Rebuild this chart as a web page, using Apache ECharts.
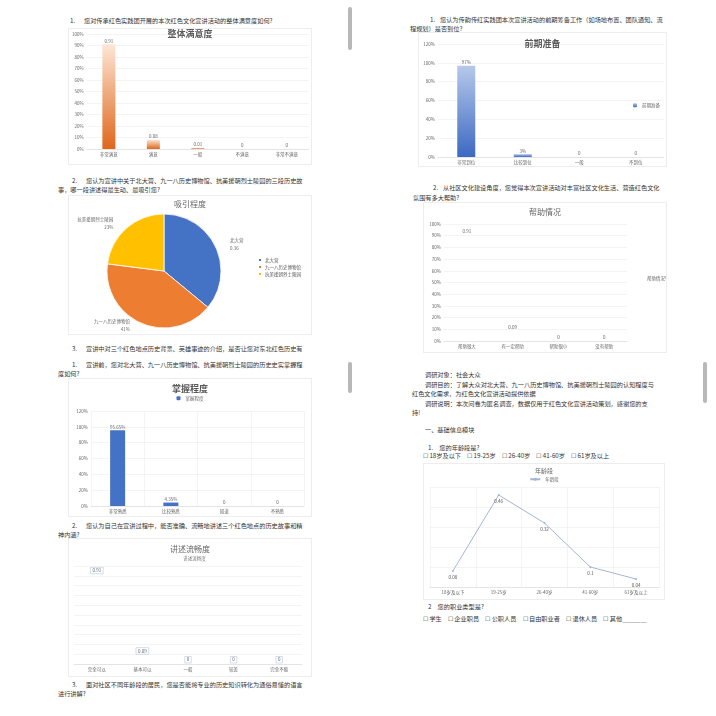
<!DOCTYPE html>
<html><head><meta charset="utf-8">
<script src="https://cdn.jsdelivr.net/npm/echarts@6/dist/echarts.min.js"></script>
<style>
body{margin:0;background:#fff;width:716px;height:716px;overflow:hidden;position:relative;font-family:"Noto Sans CJK SC",sans-serif;}
.t{position:absolute;white-space:nowrap;font-size:6.2px;color:#333;line-height:7px;}
.box{position:absolute;border:1px solid #ededed;box-sizing:border-box;}
.sb{position:absolute;background:#b8b8b8;border-radius:2px;}
</style></head><body>
<script>
// ---------- data ----------
const satCats = ['非常满意','满意','一般','不满意','非常不满意'];
const satVals = [0.91,0.08,0.01,0,0];
const attractNames = ['北大营','九一八历史博物馆','抗美援朝烈士陵园'];
const attractVals = [0.36,0.41,0.23];
const masterCats = ['非常熟悉','比较熟悉','知道','不熟悉'];
const masterVals = [0.9565,0.0435,0,0];
const fluencyCats = ['完全可以','基本可以','一般','较差','完全不能'];
const fluencyVals = [0.91,0.09,0,0,0];
const prepCats = ['非常到位','比较到位','一般','不到位'];
const prepVals = [0.97,0.03,0,0];
const helpCats = ['帮助很大','有一定帮助','帮助很小','没有帮助'];
const helpVals = [0.91,0.09,0,0];
const ageCats = ['18岁及以下','19-25岁','26-40岁','41-60岁','61岁及以上'];
const ageVals = [0.08,0.46,0.32,0.1,0.04];

// ---------- text lines ----------
const textLines = [
 [70,20,'1.'],[84,20,'您对传承红色实践团开展的本次红色文化宣讲活动的整体满意度如何?'],
 [72,180,'2.'],[86,180,'您认为宣讲中关于北大营、九一八历史博物馆、抗美援朝烈士陵园的三段历史故'],
 [58,189,'事，哪一段讲述得最生动、最吸引您?'],
 [72,348,'3.'],[86,348,'宣讲中对三个红色地点历史背景、英雄事迹的介绍，是否让您对东北红色历史有'],
 [72,364,'1.'],[86,364,'宣讲前，您对北大营、九一八历史博物馆、抗美援朝烈士陵园的历史史实掌握程'],
 [58,373,'度如何?'],
 [72,525,'2.'],[86,525,'您认为自己在宣讲过程中，能否准确、流畅地讲述三个红色地点的历史故事和精'],
 [58,534,'神内涵?'],
 [72,684,'3.'],[86,684,'面对社区不同年龄段的居民，您是否能将专业的历史知识转化为通俗易懂的语言'],
 [58,693,'进行讲解?'],
 [430,19,'1.'],[440,19,'您认为传韵传红实践团本次宣讲活动的前期筹备工作（如场地布置、团队通知、流'],
 [410,28,'程规划）是否到位?'],
 [433,187,'2.'],[443,187,'从社区文化建设角度，您觉得本次宣讲活动对丰富社区文化生活、营造红色文化'],
 [413,197,'氛围有多大帮助?'],
 [425,374,'调研对象：社会大众'],
 [425,384,'调研目的：了解大众对北大营、九一八历史博物馆、抗美援朝烈士陵园的认知程度与'],
 [412,393,'红色文化需求，为红色文化宣讲活动提供依据'],
 [425,403,'调研说明：本次问卷为匿名调查，数据仅用于红色文化宣讲活动策划，感谢您的支'],
 [412,412,'持!'],
 [425,429,'一、基础信息模块'],
 [428,447,'1.　您的年龄段是?'],
 [423,455,'☐ 18岁及以下　☐ 19-25岁　☐ 26-40岁　☐ 41-60岁　☐ 61岁及以上'],
 [428,606,'2　您的职业类型是?'],
 [423,618,'☐ 学生　☐ 企业职员　☐ 公职人员　☐ 自由职业者　☐ 退休人员　☐ 其他＿＿＿＿']
];
textLines.forEach(([x,y,s])=>{
  const d=document.createElement('div');d.className='t';
  d.style.left=x+'px';d.style.top=(y-3.5)+'px';d.textContent=s;document.body.appendChild(d);
});
[[348,7,4,43],[348,362,4,31],[703,362,4,41]].forEach(([x,y,w,h])=>{
  const d=document.createElement('div');d.className='sb';
  Object.assign(d.style,{left:x+'px',top:y+'px',width:w+'px',height:h+'px'});document.body.appendChild(d);
});

function mk(l,t,w,h,opt){
  const d=document.createElement('div');d.className='box';
  Object.assign(d.style,{left:l+'px',top:t+'px',width:w+'px',height:h+'px'});
  document.body.appendChild(d);
  const c=echarts.init(d,null,{renderer:'canvas'});
  opt.animation=false;
  opt.textStyle={fontFamily:'Noto Sans CJK SC'};
  c.setOption(opt);
}
const pct=v=>Math.round(v*100)+'%';
const axLab={fontSize:4.5,color:'#666',margin:3};
const catX=(data,split)=>({type:'category',data:data,axisTick:{show:false},
  axisLine:{lineStyle:{color:'#d9d9d9',width:0.6}},axisLabel:axLab,
  splitLine:{show:!!split,lineStyle:{color:'#ececec',width:0.6}}});
const valY=(max,intv,showLab)=>({type:'value',min:0,max:max,interval:intv,
  axisLabel:Object.assign({show:showLab,formatter:pct},axLab),
  axisLine:{show:false},axisTick:{show:false},
  splitLine:{lineStyle:{color:'#ececec',width:0.6}}});
const boldTitle=(s,top)=>({text:s,left:'center',top:top,padding:0,textStyle:{fontSize:9,fontWeight:'bold',color:'#595959'}});
const thinTitle=(s,top,fs)=>({text:s,left:'center',top:top,padding:0,textStyle:{fontSize:fs||8,fontWeight:'normal',color:'#666'}});
const lbl={show:true,position:'top',fontSize:4.5,color:'#666',distance:1};

// chart 1 整体满意度
mk(68,28,244,137,{
  title:boldTitle('整体满意度',0),
  grid:{left:17,right:2,top:5,bottom:15},
  xAxis:catX(satCats),
  yAxis:valY(1,0.1,true),
  series:[{type:'bar',data:satVals,barWidth:13,
    itemStyle:{color:new echarts.graphic.LinearGradient(0,0,0,1,[{offset:0,color:'#fce6d6'},{offset:1,color:'#e0661a'}])},
    label:lbl}]
});

// pie 吸引程度
mk(68,195,244,140,{
  title:thinTitle('吸引程度',4),
  color:['#4472c4','#ed7d31','#ffc000'],
  legend:{orient:'vertical',left:188,top:61,itemWidth:4,itemHeight:4,itemGap:1,padding:0,
    textStyle:{fontSize:4.5,color:'#555',padding:[0,0,0,-2]}},
  series:[{type:'pie',center:[95,75],radius:57,startAngle:90,
    data:attractNames.map((n,i)=>({name:n,value:attractVals[i]})),
    itemStyle:{borderColor:'#fff',borderWidth:0.8},
    label:{show:true,position:'outside',fontSize:4.5,color:'#666',lineHeight:8,
      formatter:p=>p.dataIndex===0?p.name+'\n'+p.value.toFixed(2):p.name+'\n'+pct(p.value)},
    labelLine:{show:false,length:6,length2:4}}]
});

// chart 3 掌握程度
mk(68,378,244,139,{
  title:boldTitle('掌握程度',5),
  legend:{top:17,itemWidth:4,itemHeight:4,padding:0,textStyle:{fontSize:4.5,color:'#666'}},
  grid:{left:22,right:7,top:32,bottom:10},
  xAxis:catX(masterCats,true),
  yAxis:valY(1.2,0.2,true),
  series:[{name:'掌握程度',type:'bar',data:masterVals,barWidth:15,itemStyle:{color:'#4472c4'},
    label:Object.assign({},lbl,{formatter:p=>p.value===0?'0':(p.value*100).toFixed(2)+'%'})}]
});

// chart 4 讲述流畅度
mk(68,538,244,139,{
  title:thinTitle('讲述流畅度',6),
  legend:{top:17,itemWidth:4,itemHeight:4,padding:0,textStyle:{fontSize:4.5,color:'#777'}},
  grid:{left:5,right:9,top:27,bottom:12},
  xAxis:catX(fluencyCats),
  yAxis:valY(1,0.1,false),
  series:[{name:'讲述流畅度',type:'bar',data:fluencyVals,barWidth:14,itemStyle:{color:'rgba(0,0,0,0)'},
    label:Object.assign({},lbl,{borderColor:'#a9bbd9',borderWidth:0.5,padding:[1,2]})}]
});

// right chart 1 前期准备
mk(418,32,249,135,{
  title:boldTitle('前期准备',6),
  legend:{orient:'vertical',left:214,top:70,itemWidth:4,itemHeight:4,padding:0,textStyle:{fontSize:4.5,color:'#666'}},
  grid:{left:19,right:2,top:11,bottom:9},
  xAxis:catX(prepCats),
  yAxis:valY(1.2,0.2,true),
  series:[{name:'前期准备',type:'bar',data:prepVals,barWidth:18,
    itemStyle:{color:new echarts.graphic.LinearGradient(0,0,0,1,[{offset:0,color:'#b7c9ea'},{offset:1,color:'#3c69c2'}])},
    label:Object.assign({},lbl,{formatter:p=>p.value===0?'0':pct(p.value)})}]
});

// right chart 2 帮助情况
mk(423,202,244,151,{
  title:thinTitle('帮助情况',5),
  legend:{orient:'vertical',left:214,top:73,itemWidth:4,itemHeight:4,padding:0,textStyle:{fontSize:4.5,color:'#666'}},
  grid:{left:20,right:39,top:21,bottom:11},
  xAxis:catX(helpCats),
  yAxis:valY(1,0.1,true),
  series:[{name:'帮助情况%',type:'bar',data:helpVals,barWidth:14,itemStyle:{color:'rgba(0,0,0,0)'},label:lbl}]
});

// line chart 年龄段
mk(423,463,242,137,{
  title:thinTitle('年龄段',4,6),
  legend:{top:13,itemWidth:10,itemHeight:4,padding:0,textStyle:{fontSize:4.5,color:'#666'}},
  grid:{left:6,right:5,top:23,bottom:12},
  xAxis:catX(ageCats,true),
  yAxis:valY(0.5,0.1,false),
  series:[{name:'年龄段',type:'line',data:ageVals,symbol:'circle',symbolSize:2,
    lineStyle:{color:'#a3b6d6',width:1},itemStyle:{color:'#a3b6d6'},
    label:{show:true,position:'bottom',fontSize:4.5,color:'#555',distance:3}}]
});
</script>
</body></html>
